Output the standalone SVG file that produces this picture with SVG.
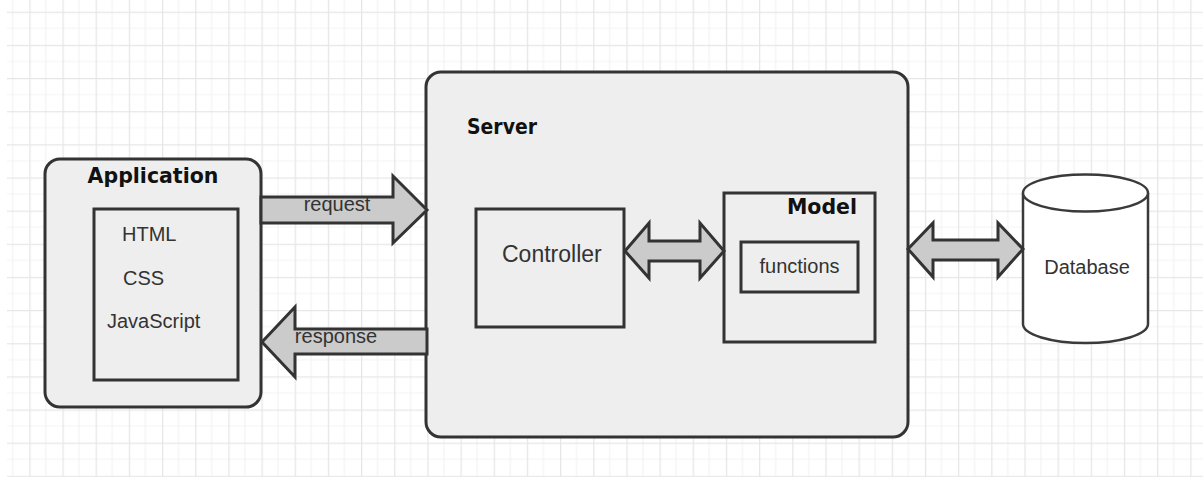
<svg xmlns="http://www.w3.org/2000/svg" width="1203" height="477" viewBox="0 0 1203 477">
  <defs>
    <pattern id="grid" patternUnits="userSpaceOnUse" x="29.3" y="11.7" width="33.17" height="33.15">
      <path d="M16.58,0 V33.15 M0,16.57 H33.17" stroke="#f3f3f3" stroke-width="1.2" fill="none"/>
      <path d="M0.6,0 V33.15 M0,0.6 H33.17" stroke="#e6e6e6" stroke-width="1.3" fill="none"/>
    </pattern>
  </defs>
  <style>
    .box { fill: #eeeeee; stroke: #333333; stroke-width: 3; }
    .arrow { fill: #cbcbcb; stroke: #333333; stroke-width: 3; stroke-linejoin: miter; }
    .db { fill: #ffffff; stroke: #3a3a3a; stroke-width: 2.5; }
    .title { font-family: "DejaVu Sans", Verdana, sans-serif; font-weight: bold; font-size: 20.5px; fill: #111111; }
    .label { font-family: "Liberation Sans", Arial, sans-serif; font-size: 20px; fill: #333333; }
  </style>

  <!-- canvas background with grid -->
  <rect width="1203" height="477" fill="#ffffff"/>
  <rect x="7" y="0" width="1196" height="477" fill="url(#grid)"/>

  <!-- client side -->
  <g id="application">
    <rect class="box" x="45" y="159" width="216" height="248" rx="15"/>
    <text class="title" x="153" y="183" text-anchor="middle">Application</text>
    <rect class="box" x="94" y="209" width="144" height="171"/>
    <text class="label" x="122" y="241">HTML</text>
    <text class="label" x="123" y="285">CSS</text>
    <text class="label" x="107" y="328">JavaScript</text>
  </g>

  <!-- server container -->
  <g id="server">
    <rect class="box" x="426" y="72" width="482" height="365" rx="15"/>
    <text class="title" x="467" y="134" textLength="70" lengthAdjust="spacingAndGlyphs">Server</text>
  </g>

  <g id="controller">
    <rect class="box" x="476" y="209" width="148" height="118"/>
    <text class="label" x="502" y="262" style="font-size:23px">Controller</text>
  </g>

  <g id="model">
    <rect class="box" x="724" y="193" width="151" height="149"/>
    <text class="title" x="857" y="214" text-anchor="end">Model</text>
  </g>

  <g id="functions">
    <rect class="box" x="741" y="242" width="117" height="50"/>
    <text class="label" x="799.5" y="273" text-anchor="middle">functions</text>
  </g>

  <!-- storage -->
  <g id="database">
    <path class="db" d="M1023,193 A62.5,18.5 0 0 1 1148,193 V324 A62.5,19 0 0 1 1023,324 Z"/>
    <path class="db" fill="none" d="M1023,193 A62.5,18.5 0 0 0 1148,193"/>
    <text class="label" x="1087" y="274" text-anchor="middle">Database</text>
  </g>

  <!-- block arrows between components -->
  <g id="connectors">
    <polygon class="arrow" points="261,197 393,197 393,176 427,210 393,243 393,223 261,223"/>
    <text class="label" x="337" y="211" text-anchor="middle">request</text>

    <polygon class="arrow" points="427,329 295,329 295,307 262,342 295,377 295,354 427,354"/>
    <text class="label" x="336" y="343" text-anchor="middle">response</text>

    <polygon class="arrow" points="625,251 649,223 649,241 700,241 700,223 724,251 700,278 700,261 649,261 649,278"/>

    <polygon class="arrow" points="908,249 933,223 933,240 998,240 998,223 1023,249 998,277 998,260 933,260 933,277"/>
  </g>
</svg>
